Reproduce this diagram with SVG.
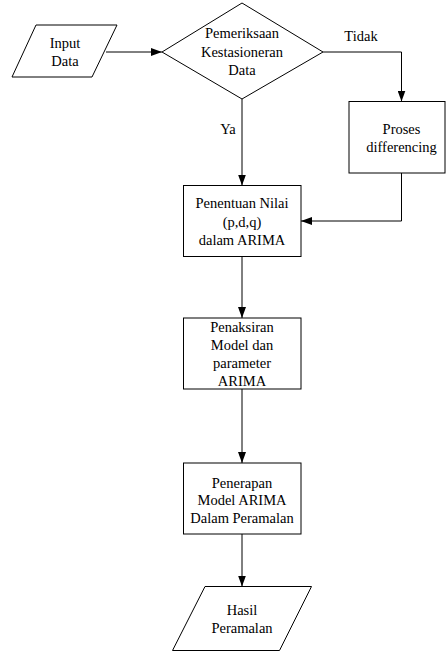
<svg xmlns="http://www.w3.org/2000/svg" width="446" height="652" viewBox="0 0 446 652">
<style>
.s{fill:#fff;stroke:#000;stroke-width:1}
.t{font-family:"Liberation Serif","Times New Roman",serif;font-size:14.5px;fill:#000;text-anchor:middle}
.c{fill:none;stroke:#000;stroke-width:1}
</style>
<defs>
<marker id="a" markerWidth="11" markerHeight="8" refX="11" refY="4" orient="auto" markerUnits="userSpaceOnUse">
<path d="M0,0 L11,4 L0,8 Z" fill="#000"/>
</marker>
</defs>
<rect width="446" height="652" fill="#fff"/>
<g id="connectors">
<path class="c" d="M106,52 H162" marker-end="url(#a)"/>
<path class="c" d="M323,52 H401.5 V101.5" marker-end="url(#a)"/>
<path class="c" d="M242,99 V185.5" marker-end="url(#a)"/>
<path class="c" d="M401.5,173 V221 H301" marker-end="url(#a)"/>
<path class="c" d="M242,256.5 V318" marker-end="url(#a)"/>
<path class="c" d="M242,389 V463" marker-end="url(#a)"/>
<path class="c" d="M242,534 V586.5" marker-end="url(#a)"/>
<text class="t" x="361" y="41">Tidak</text>
<text class="t" x="228" y="134">Ya</text>
</g>
<g id="input">
<polygon class="s" points="36,25 117,25 92,77 12,77"/>
<text class="t" x="65" y="48">Input</text>
<text class="t" x="65" y="66">Data</text>
</g>
<g id="decision">
<polygon class="s" points="242,3 323,52 242,99 162,52"/>
<text class="t" x="242" y="38">Pemeriksaan</text>
<text class="t" x="242" y="56.5">Kestasioneran</text>
<text class="t" x="242" y="75">Data</text>
</g>
<g id="differencing">
<rect class="s" x="349" y="101.5" width="96" height="71.5"/>
<text class="t" x="401.5" y="134">Proses</text>
<text class="t" x="401.5" y="152">differencing</text>
</g>
<g id="penentuan">
<rect class="s" x="183.5" y="185.5" width="117.5" height="71"/>
<text class="t" x="242" y="208">Penentuan Nilai</text>
<text class="t" x="242" y="226.5">(p,d,q)</text>
<text class="t" x="242" y="245">dalam ARIMA</text>
</g>
<g id="penaksiran">
<rect class="s" x="183.5" y="318" width="117.5" height="71"/>
<text class="t" x="242" y="331.5">Penaksiran</text>
<text class="t" x="242" y="350">Model dan</text>
<text class="t" x="242" y="367.5">parameter</text>
<text class="t" x="242" y="385.5">ARIMA</text>
</g>
<g id="penerapan">
<rect class="s" x="183.5" y="463" width="117.5" height="71"/>
<text class="t" x="242" y="487.5">Penerapan</text>
<text class="t" x="242" y="505">Model ARIMA</text>
<text class="t" x="242" y="522.5">Dalam Peramalan</text>
</g>
<g id="hasil">
<polygon class="s" points="205,586.5 311.5,586.5 279.5,650.5 172.5,650.5"/>
<text class="t" x="242" y="615">Hasil</text>
<text class="t" x="242" y="633">Peramalan</text>
</g>
</svg>
